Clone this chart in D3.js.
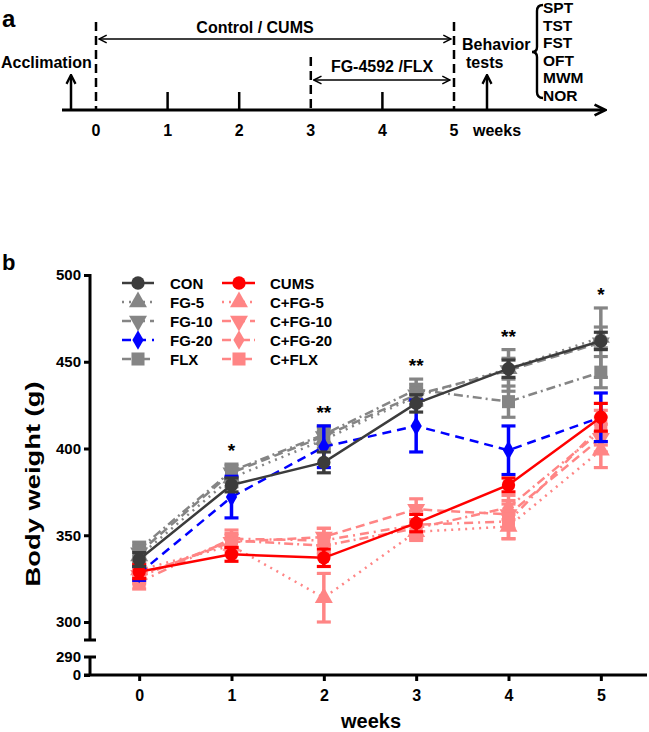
<!DOCTYPE html>
<html><head><meta charset="utf-8">
<script src="https://cdn.jsdelivr.net/npm/d3@7"></script>
<style>body{margin:0;background:#fff}svg{font-family:"Liberation Sans",Arial,sans-serif;font-weight:bold}</style>
</head><body>
<svg id="c" width="649" height="732"></svg>
<script>
// ---------- data ----------
const weeks = [0, 1, 2, 3, 4, 5];
const yTicks = [300, 350, 400, 450, 500];
const yBreakTicks = [0, 290];
const tests = ["SPT", "TST", "FST", "OFT", "MWM", "NOR"];
const timelineWeeks = [0, 1, 2, 3, 4, 5];

const conMean = [336, 379, 392, 426, 446, 462];
const conSem  = [4, 4, 6, 5, 5, 5];
const fg5Mean = [338, 383, 405, 430, 446, 464];
const fg5Sem  = [4, 5, 5, 5, 6, 6];
const fg10Mean = [340, 386, 407, 431, 445, 461];
const fg10Sem  = [4, 4, 5, 6, 12, 20];
const fg20Mean = [328, 372, 401, 413, 399, 418];
const fg20Sem  = [4, 12, 12, 15, 14, 14];
const flxMean = [342, 387, 408, 434, 427, 444];
const flxSem  = [4, 4, 5, 6, 9, 9];
const cumsMean = [329, 339, 337, 357, 379, 418];
const cumsSem  = [4, 4, 5, 5, 4, 8];
const cfg5Mean = [330, 344, 314, 352, 355, 399];
const cfg5Sem  = [4, 4, 14, 5, 7, 10];
const cfg10Mean = [327, 346, 349, 365, 362, 406];
const cfg10Sem  = [4, 4, 5, 6, 8, 8];
const cfg20Mean = [326, 347, 344, 354, 366, 410];
const cfg20Sem  = [4, 4, 5, 5, 7, 8];
const cflxMean = [323, 348, 347, 356, 358, 413];
const cflxSem  = [4, 5, 7, 8, 10, 9];

const sigWeeks = [1, 2, 3, 4, 5];
const sigLabels = ["*", "**", "**", "**", "*"];

// ---------- styles ----------
const DARK = "#3c3c3c", GRAY = "#858585", BLUE = "#0000ff", RED = "#ff0000", PINK = "#ff8585";
const series = [
  {name:"C+FLX", mean:cflxMean, sem:cflxSem, color:PINK, dash:"9,5,2,5", sym:d3.symbolSquare, rot:0, size:170},
  {name:"C+FG-20", mean:cfg20Mean, sem:cfg20Sem, color:PINK, dash:"9,4,2,4", sym:d3.symbolDiamond, rot:0, size:110},
  {name:"C+FG-10", mean:cfg10Mean, sem:cfg10Sem, color:PINK, dash:"9,5", sym:d3.symbolTriangle, rot:180, size:140},
  {name:"C+FG-5", mean:cfg5Mean, sem:cfg5Sem, color:PINK, dash:"2,5", sym:d3.symbolTriangle, rot:0, size:140},
  {name:"FLX", mean:flxMean, sem:flxSem, color:GRAY, dash:"9,4,2,4", sym:d3.symbolSquare, rot:0, size:170},
  {name:"FG-10", mean:fg10Mean, sem:fg10Sem, color:GRAY, dash:"9,5", sym:d3.symbolTriangle, rot:180, size:140},
  {name:"FG-5", mean:fg5Mean, sem:fg5Sem, color:GRAY, dash:"2,5", sym:d3.symbolTriangle, rot:0, size:140},
  {name:"FG-20", mean:fg20Mean, sem:fg20Sem, color:BLUE, dash:"9,6", sym:d3.symbolDiamond, rot:0, size:110},
  {name:"CUMS", mean:cumsMean, sem:cumsSem, color:RED, dash:null, sym:d3.symbolCircle, rot:0, size:140},
  {name:"CON", mean:conMean, sem:conSem, color:DARK, dash:null, sym:d3.symbolCircle, rot:0, size:140}
];
const legendLeft = ["CON", "FG-5", "FG-10", "FG-20", "FLX"];
const legendRight = ["CUMS", "C+FG-5", "C+FG-10", "C+FG-20", "C+FLX"];

const svg = d3.select("#c");

// ---------- panel a: timeline ----------
const ga = svg.append("g");
const defs = svg.append("defs");
defs.append("marker").attr("id","ah").attr("viewBox","0 0 10 10").attr("refX",9).attr("refY",5)
  .attr("markerWidth",6).attr("markerHeight",6).attr("orient","auto-start-reverse")
  .append("path").attr("d","M1,1 L9,5 L1,9").attr("fill","none").attr("stroke","#000").attr("stroke-width",1.6);
defs.append("marker").attr("id","ahb").attr("viewBox","0 0 10 10").attr("refX",8).attr("refY",5)
  .attr("markerWidth",4.5).attr("markerHeight",4.5).attr("orient","auto-start-reverse")
  .append("path").attr("d","M1,1 L9,5 L1,9").attr("fill","none").attr("stroke","#000").attr("stroke-width",2);

const tx = d3.scaleLinear().domain([0,5]).range([96,454]);
const FA = 16;
ga.append("text").attr("x",2).attr("y",27).attr("font-size",24).text("a");
ga.append("line").attr("x1",62).attr("x2",604).attr("y1",110).attr("y2",110)
  .attr("stroke","#000").attr("stroke-width",3).attr("marker-end","url(#ahb)");
ga.selectAll(".tt").data(timelineWeeks.filter(d=>d!==0&&d!==3&&d!==5)).join("line")
  .attr("x1",d=>tx(d)).attr("x2",d=>tx(d)).attr("y1",110).attr("y2",92).attr("stroke","#000").attr("stroke-width",2.5);
ga.selectAll(".tl").data(timelineWeeks).join("text").attr("x",d=>tx(d)).attr("y",136)
  .attr("text-anchor","middle").attr("font-size",FA).text(d=>d);
ga.append("text").attr("x",473).attr("y",136).attr("font-size",FA).text("weeks");
[[0,22],[3,57],[5,22]].forEach(([w,top])=>{
  ga.append("line").attr("x1",tx(w)).attr("x2",tx(w)).attr("y1",top).attr("y2",110)
    .attr("stroke","#000").attr("stroke-width",2.5).attr("stroke-dasharray","9,5");
});
ga.append("line").attr("x1",tx(0)+3).attr("x2",tx(5)-3).attr("y1",39).attr("y2",39)
  .attr("stroke","#000").attr("stroke-width",1.6).attr("marker-start","url(#ah)").attr("marker-end","url(#ah)");
ga.append("text").attr("x",255).attr("y",33).attr("text-anchor","middle").attr("font-size",FA).text("Control / CUMS");
ga.append("line").attr("x1",tx(3)+3).attr("x2",tx(5)-4).attr("y1",80).attr("y2",80)
  .attr("stroke","#000").attr("stroke-width",1.6).attr("marker-start","url(#ah)").attr("marker-end","url(#ah)");
ga.append("text").attr("x",382).attr("y",72).attr("text-anchor","middle").attr("font-size",FA).text("FG-4592 /FLX");
ga.append("text").attr("x",1).attr("y",68).attr("font-size",FA).text("Acclimation");
ga.append("line").attr("x1",71).attr("x2",71).attr("y1",110).attr("y2",76)
  .attr("stroke","#000").attr("stroke-width",2.5).attr("marker-end","url(#ahb)");
ga.append("text").attr("x",462).attr("y",50).attr("font-size",FA).text("Behavior");
ga.append("text").attr("x",466).attr("y",68).attr("font-size",FA).text("tests");
ga.append("line").attr("x1",487).attr("x2",487).attr("y1",110).attr("y2",76)
  .attr("stroke","#000").attr("stroke-width",2.5).attr("marker-end","url(#ahb)");
// brace
ga.append("path").attr("d","M543,5 Q537,5 537,11 L537,47 Q537,52 532,52 Q537,52 537,57 L537,92 Q537,98 543,98")
  .attr("fill","none").attr("stroke","#000").attr("stroke-width",2.4);
ga.selectAll(".ts").data(tests).join("text").attr("x",543).attr("y",(d,i)=>13+i*17.6)
  .attr("font-size",15.5).text(d=>d);

// ---------- panel b ----------
const gb = svg.append("g");
gb.append("text").attr("x",2).attr("y",270).attr("font-size",22).text("b");

const x = d3.scaleLinear().domain([-0.5,5.5]).range([93,647]);
const y = d3.scaleLinear().domain([300,500]).range([622,275]);
const yLow = d3.scaleLinear().domain([0,290]).range([675,657]);
const axisX = 90;

const yAx = d3.axisLeft(y).tickValues(yTicks).tickSize(6).tickPadding(3).tickSizeOuter(0);
const gy = gb.append("g").attr("transform",`translate(${axisX},0)`).call(yAx);
gy.select(".domain").remove();
gy.append("line").attr("x1",0).attr("x2",0).attr("y1",274).attr("y2",640).attr("stroke","#000").attr("stroke-width",3);
gy.append("line").attr("x1",-6).attr("x2",6).attr("y1",640).attr("y2",640).attr("stroke","#000").attr("stroke-width",3);
const yAx2 = d3.axisLeft(yLow).tickValues(yBreakTicks).tickSize(6).tickPadding(3).tickSizeOuter(0);
const gy2 = gb.append("g").attr("transform",`translate(${axisX},0)`).call(yAx2);
gy2.select(".domain").remove();
gy2.append("line").attr("x1",0).attr("x2",0).attr("y1",657).attr("y2",675).attr("stroke","#000").attr("stroke-width",3);
gy2.append("line").attr("x1",-6).attr("x2",6).attr("y1",657).attr("y2",657).attr("stroke","#000").attr("stroke-width",3);
[gy, gy2].forEach(g=>{
  g.selectAll(".tick line").attr("stroke","#000").attr("stroke-width",3);
  g.selectAll(".tick text").attr("font-size",15).attr("font-family","Liberation Sans, Arial").attr("font-weight","bold").attr("fill","#000");
});
gy2.selectAll(".tick").filter(d=>d===290).select("line").remove();

const xAx = d3.axisBottom(x).tickValues(weeks).tickFormat(d3.format("d")).tickSize(6).tickPadding(9).tickSizeOuter(0);
const gx = gb.append("g").attr("transform","translate(0,675)").call(xAx);
gx.select(".domain").remove();
gx.append("line").attr("x1",84).attr("x2",647).attr("y1",0).attr("y2",0).attr("stroke","#000").attr("stroke-width",3);
gx.selectAll(".tick line").attr("stroke","#000").attr("stroke-width",3);
gx.selectAll(".tick text").attr("font-size",16).attr("font-family","Liberation Sans, Arial").attr("font-weight","bold").attr("fill","#000");

gb.append("text").attr("x",371).attr("y",728).attr("text-anchor","middle").attr("font-size",20).text("weeks");
gb.append("text").attr("transform","translate(40,484) rotate(-90)").attr("text-anchor","middle")
  .attr("font-size",21).attr("textLength",205).attr("lengthAdjust","spacingAndGlyphs").text("Body weight (g)");

const line = d3.line().x((d,i)=>x(weeks[i])).y(d=>y(d));
series.forEach(s=>{
  const g = gb.append("g");
  weeks.forEach((w,i)=>{
    const cx = x(w), top = y(s.mean[i]+s.sem[i]), bot = y(s.mean[i]-s.sem[i]);
    g.append("line").attr("x1",cx).attr("x2",cx).attr("y1",top).attr("y2",bot).attr("stroke",s.color).attr("stroke-width",3.5);
    [top,bot].forEach(yy=>g.append("line").attr("x1",cx-7).attr("x2",cx+7).attr("y1",yy).attr("y2",yy).attr("stroke",s.color).attr("stroke-width",3.2));
  });
  g.append("path").datum(s.mean).attr("d",line).attr("fill","none").attr("stroke",s.color)
    .attr("stroke-width",2.5).attr("stroke-dasharray",s.dash);
  g.selectAll("path.m").data(s.mean).join("path").attr("class","m")
    .attr("d",d3.symbol().type(s.sym).size(s.size))
    .attr("transform",(d,i)=>`translate(${x(weeks[i])},${y(d)}) rotate(${s.rot})`)
    .attr("fill",s.color);
});

gb.selectAll(".sig").data(sigWeeks).join("text")
  .attr("x",d=>x(d)).attr("y",(d,i)=>{
    const tops = series.map(s=>s.mean[d]+s.sem[d]);
    return y(d3.max(tops))-7;
  }).attr("text-anchor","middle").attr("font-size",19).text((d,i)=>sigLabels[i]);

const byName = Object.fromEntries(series.map(s=>[s.name,s]));
function legendCol(names, x0, xm, x1, xt){
  names.forEach((n,i)=>{
    const s = byName[n], yy = 283 + i*19;
    gb.append("line").attr("x1",x0).attr("x2",x1).attr("y1",yy).attr("y2",yy).attr("stroke",s.color)
      .attr("stroke-width",2.5).attr("stroke-dasharray",s.dash);
    gb.append("path").attr("d",d3.symbol().type(s.sym).size(s.size))
      .attr("transform",`translate(${xm},${yy}) rotate(${s.rot})`).attr("fill",s.color);
    gb.append("text").attr("x",xt).attr("y",yy+5.5).attr("font-size",15).text(n);
  });
}
legendCol(legendLeft, 122, 138, 154, 170);
legendCol(legendRight, 222, 239, 255, 270);
</script>
</body></html>
